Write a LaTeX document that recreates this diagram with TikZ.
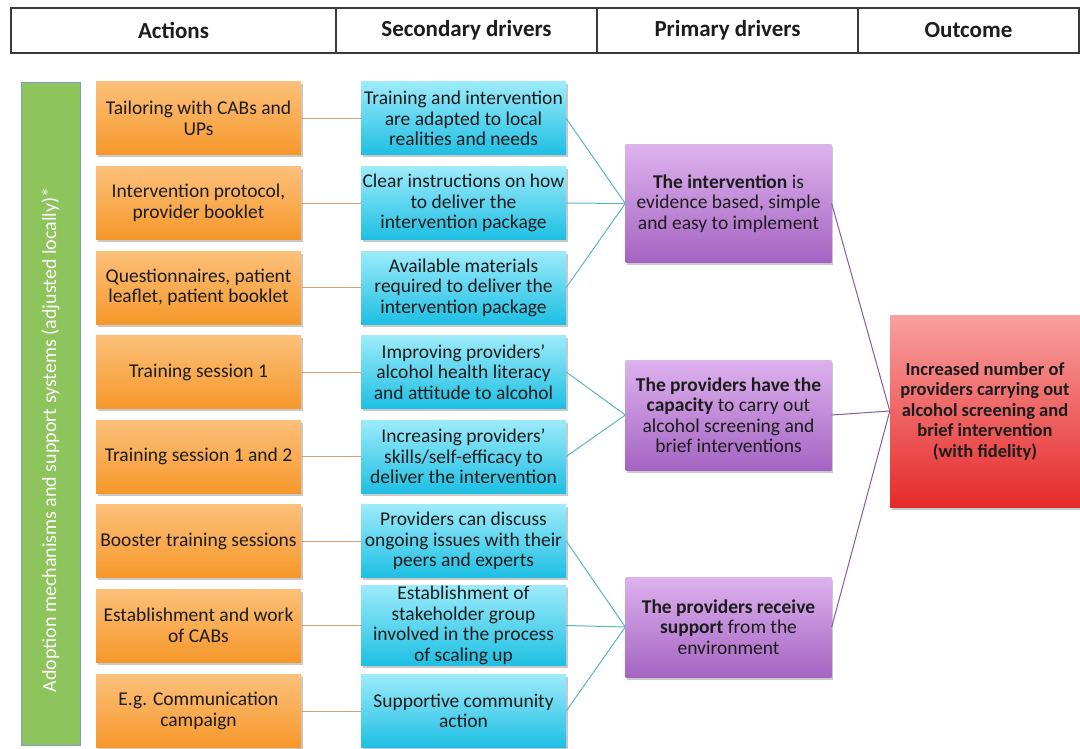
\documentclass[tikz,border=0pt]{standalone}
\usepackage{fontspec}
\setmainfont{Carlito}
\usetikzlibrary{shadows}

\definecolor{txt}{HTML}{1C1C1C}
\definecolor{hdrline}{HTML}{3A3A3A}
\definecolor{orgtop}{HTML}{FCC07A}
\definecolor{orgbot}{HTML}{F6982A}
\definecolor{cyntop}{HTML}{9DEBFA}
\definecolor{cynbot}{HTML}{1DBFE3}
\definecolor{purtop}{HTML}{DDB2EE}
\definecolor{purbot}{HTML}{A564C2}
\definecolor{redtop}{HTML}{F9A0A0}
\definecolor{redbot}{HTML}{E52A2A}
\definecolor{grnfill}{HTML}{8DC45C}
\definecolor{grnline}{HTML}{7C9CC8}
\definecolor{olink}{HTML}{DDA074}
\definecolor{clink}{HTML}{5DB5CA}
\definecolor{plink}{HTML}{8B5A9B}

\tikzset{
  every node/.style={font=\fontsize{19.5}{20.5}\selectfont, text=txt},
  hdrcell/.style={draw=hdrline, line width=1.1pt, minimum height=45pt,
    inner sep=0pt, font=\fontsize{23}{25}\selectfont\bfseries},
  shade/.style={drop shadow={shadow xshift=1.5pt, shadow yshift=-2.5pt,
    opacity=0.35, fill=black!60}},
  actbox/.style={shade, top color=orgtop, bottom color=orgbot,
    minimum width=205pt, minimum height=73pt, align=center, inner sep=1pt},
  secbox/.style={shade, top color=cyntop, bottom color=cynbot,
    minimum width=205pt, minimum height=73pt, align=center, inner sep=1pt},
  pribox/.style={shade, top color=purtop, bottom color=purbot,
    minimum width=206pt, align=center, inner sep=1pt},
  outbox/.style={shade, top color=redtop, bottom color=redbot,
    minimum width=190pt, minimum height=192pt, align=center, inner sep=1pt,
    font=\fontsize{18.5}{20.5}\selectfont\bfseries},
  sidebar/.style={fill=grnfill, draw=grnline, line width=0.8pt,
    minimum width=59pt, minimum height=663pt, inner sep=0pt},
  olinkln/.style={draw=olink, line width=0.9pt},
  clinkln/.style={draw=clink, line width=1pt},
  plinkln/.style={draw=plink, line width=1pt},
}

\begin{document}
\begin{tikzpicture}[x=1pt, y=-1pt]
\useasboundingbox (0,0) rectangle (1080,749);
\fill[white] (0,0) rectangle (1080,749);

% column headings
\node[hdrcell, minimum width=325pt] (h1) at (173.5,30.5) {Actions};
\node[hdrcell, minimum width=261pt] (h2) at (466.5,30.5) {Secondary drivers};
\node[hdrcell, minimum width=261pt] (h3) at (727.5,30.5) {Primary drivers};
\node[hdrcell, minimum width=221pt] (h4) at (968.5,30.5) {Outcome};

% side bar
\node[sidebar] (side) at (50.5,413.5) {};
\node[rotate=90, text=white, font=\fontsize{20}{22}\selectfont] (sidetext) at (50.5,440)
  {Adoption mechanisms and support systems (adjusted locally)*};

% actions
\node[actbox] (a1) at (198.5,118.5) {Tailoring with CABs and\\UPs};
\node[actbox] (a2) at (198.5,203)   {Intervention protocol,\\provider booklet};
\node[actbox] (a3) at (198.5,287.5) {Questionnaires, patient\\leaflet, patient booklet};
\node[actbox] (a4) at (198.5,372)   {Training session 1};
\node[actbox] (a5) at (198.5,456.5) {Training session 1 and 2};
\node[actbox] (a6) at (198.5,541)   {Booster training sessions};
\node[actbox] (a7) at (198.5,625.5) {Establishment and work\\of CABs};
\node[actbox] (a8) at (198.5,711)   {E.g. Communication\\campaign};

% secondary drivers
\node[secbox] (s1) at (463.5,118.5) {Training and intervention\\are adapted to local\\realities and needs};
\node[secbox] (s2) at (463.5,203)   {Clear instructions on how\\to deliver the\\intervention package};
\node[secbox] (s3) at (463.5,287.5) {Available materials\\required to deliver the\\intervention package};
\node[secbox] (s4) at (463.5,372)   {Improving providers'\\alcohol health literacy\\and attitude to alcohol};
\node[secbox] (s5) at (463.5,456.5) {Increasing providers'\\skills/self-efficacy to\\deliver the intervention};
\node[secbox] (s6) at (463.5,541)   {Providers can discuss\\ongoing issues with their\\peers and experts};
\node[secbox] (s7) at (463.5,625.5) {Establishment of\\stakeholder group\\involved in the process\\of scaling up};
\node[secbox] (s8) at (463.5,711)   {Supportive community\\action};

% primary drivers
\node[pribox, minimum height=117pt] (p1) at (728.5,203.5)
  {\textbf{The intervention} is\\evidence based, simple\\and easy to implement};
\node[pribox, minimum height=110pt] (p2) at (728.5,415)
  {\textbf{The providers have the}\\\textbf{capacity} to carry out\\alcohol screening and\\brief interventions};
\node[pribox, minimum height=100pt] (p3) at (728.5,627)
  {\textbf{The providers receive}\\\textbf{support} from the\\environment};

% outcome
\node[outbox] (out) at (985,411)
  {Increased number of\\providers carrying out\\alcohol screening and\\brief intervention\\(with fidelity)};

% actions to secondary drivers
\foreach \i in {1,...,8}{
  \draw[olinkln] (a\i.east) -- (s\i.west);
}

% secondary to primary drivers
\foreach \i in {1,2,3}{ \draw[clinkln] (s\i.east) -- (p1.west); }
\foreach \i in {4,5}{ \draw[clinkln] (s\i.east) -- (p2.west); }
\foreach \i in {6,7,8}{ \draw[clinkln] (s\i.east) -- (p3.west); }

% primary drivers to outcome
\foreach \i in {1,2,3}{ \draw[plinkln] (p\i.east) -- (out.west); }
\end{tikzpicture}
\end{document}
